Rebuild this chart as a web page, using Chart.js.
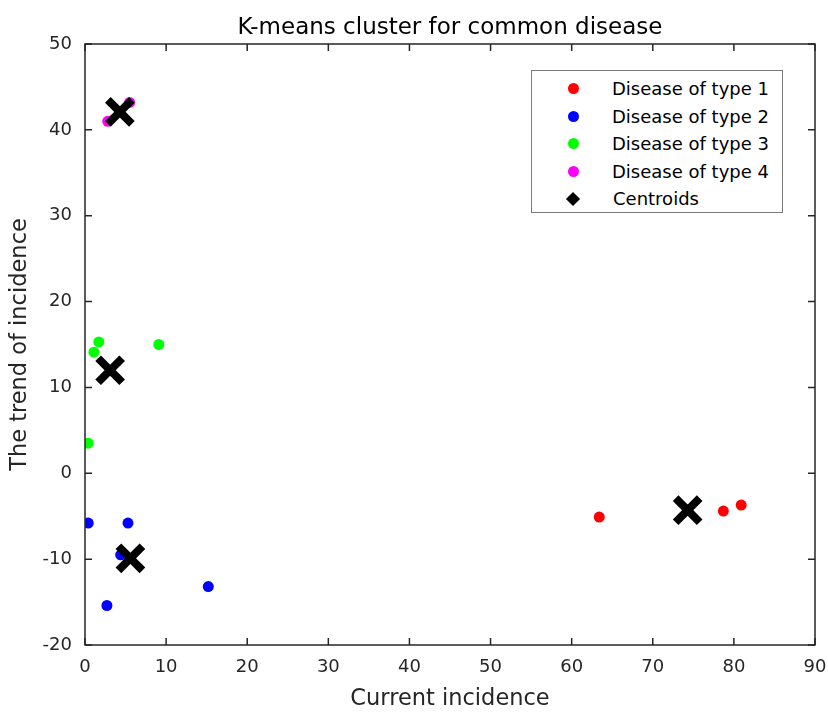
<!DOCTYPE html>
<html>
<head>
<meta charset="utf-8">
<script src="https://cdn.jsdelivr.net/npm/chart.js@4"></script>
<style>
  html, body { margin: 0; padding: 0; background: #fff; }
  #wrap { position: relative; width: 828px; height: 713px; }
  #legend {
    position: absolute; left: 531px; top: 70px; width: 252px; height: 143px;
    border: 1px solid #7a7a7a; background: #fff; box-sizing: border-box;
    font-family: "DejaVu Sans", "Liberation Sans", Arial, sans-serif; font-size: 18px; color: #000;
    padding-top: 4px;
  }
  .item { height: 27.5px; display: flex; align-items: center; white-space: nowrap; }
  .mark { width: 11px; height: 11px; border-radius: 50%; margin-left: 36px; margin-right: 33px; flex: none; }
  .dia { width: 10px; height: 10px; background: #000; transform: rotate(45deg); margin-left: 36px; margin-right: 35px; flex: none; }
</style>
</head>
<body>
<div id="wrap">
  <canvas id="chart" width="828" height="713"></canvas>
  <div id="legend"></div>
</div>
<script>
// ===== Data =====
const seriesNames = ['Disease of type 1', 'Disease of type 2', 'Disease of type 3', 'Disease of type 4'];
const seriesColors = ['#ff0000', '#0000ff', '#00ff00', '#ff00ff'];

const type1X = [63.4, 78.7, 80.9];
const type1Y = [-5.1, -4.4, -3.7];
const type2X = [0.4, 5.3, 4.4, 15.2, 2.7];
const type2Y = [-5.8, -5.8, -9.5, -13.2, -15.4];
const type3X = [1.7, 1.1, 9.1, 0.4];
const type3Y = [15.3, 14.1, 15.0, 3.5];
const type4X = [2.8, 5.5];
const type4Y = [41.0, 43.2];

const centroidX = [74.3, 5.6, 3.1, 4.3];
const centroidY = [-4.3, -9.9, 12.0, 42.1];

const xTicks = [0, 10, 20, 30, 40, 50, 60, 70, 80, 90];
const yTicks = [-20, -10, 0, 10, 20, 30, 40, 50];

const pts = (xs, ys) => xs.map((x, i) => ({ x, y: ys[i] }));
const groups = [[type1X, type1Y], [type2X, type2Y], [type3X, type3Y], [type4X, type4Y]];

const datasets = groups.map((g, i) => ({
    label: seriesNames[i],
    data: pts(g[0], g[1]),
    backgroundColor: seriesColors[i],
    borderColor: seriesColors[i],
    pointRadius: 5.5,
    borderWidth: 0,
    order: 2
}));

datasets.push({
    label: 'Centroids',
    data: pts(centroidX, centroidY),
    pointStyle: 'crossRot',
    pointRadius: 17,
    borderColor: '#000',
    borderWidth: 8,
    order: 1
});

// ===== Legend (HTML) =====
const legendEl = document.getElementById('legend');
seriesNames.forEach((name, i) => {
    legendEl.insertAdjacentHTML('beforeend',
        `<div class="item"><span class="mark" style="background:${seriesColors[i]}"></span>${name}</div>`);
});
legendEl.insertAdjacentHTML('beforeend', `<div class="item"><span class="dia"></span>Centroids</div>`);

// ===== Box with inward ticks (MATLAB style) =====
const axisColor = '#262626';
const boxPlugin = {
    id: 'matlabBox',
    afterDatasetsDraw(chart) {
        const { ctx, chartArea: a, scales } = chart;
        const tl = 7;
        ctx.save();
        ctx.strokeStyle = axisColor;
        ctx.lineWidth = 1.5;
        ctx.strokeRect(a.left, a.top, a.right - a.left, a.bottom - a.top);
        ctx.beginPath();
        xTicks.forEach(v => {
            const x = scales.x.getPixelForValue(v);
            ctx.moveTo(x, a.bottom); ctx.lineTo(x, a.bottom - tl);
            ctx.moveTo(x, a.top); ctx.lineTo(x, a.top + tl);
        });
        yTicks.forEach(v => {
            const y = scales.y.getPixelForValue(v);
            ctx.moveTo(a.left, y); ctx.lineTo(a.left + tl, y);
            ctx.moveTo(a.right, y); ctx.lineTo(a.right - tl, y);
        });
        ctx.stroke();
        ctx.restore();
    }
};

const font = { family: '"DejaVu Sans", "Liberation Sans", Arial, sans-serif' };
// labels may overhang the plot box, so don't let them shrink it
const noPad = () => ({ left: 0, top: 0, right: 0, bottom: 0 });

new Chart(document.getElementById('chart'), {
    type: 'scatter',
    data: { datasets },
    plugins: [boxPlugin],
    options: {
        responsive: false,
        animation: false,
        layout: { autoPadding: false, padding: { left: 0, right: 13, top: 0, bottom: 0 } },
        plugins: {
            legend: { display: false },
            tooltip: { enabled: false },
            title: {
                display: true,
                fullSize: false,
                text: 'K-means cluster for common disease',
                color: '#000',
                font: { ...font, size: 23, weight: 'normal' },
                padding: { top: 14, bottom: 2.4 }
            }
        },
        scales: {
            x: {
                type: 'linear',
                min: 0, max: 90,
                afterBuildTicks: s => { s.ticks = xTicks.map(v => ({ value: v })); },
                afterFit: s => { s.height = 68; s.paddingLeft = 0; s.paddingRight = 0; s.getPadding = noPad; },
                grid: { display: false, drawTicks: false },
                border: { display: false },
                ticks: { color: axisColor, font: { ...font, size: 18 }, padding: 12 },
                title: {
                    display: true, text: 'Current incidence', color: axisColor,
                    font: { ...font, size: 22.5 }, padding: { top: 4, bottom: 0 }
                }
            },
            y: {
                type: 'linear',
                min: -20, max: 50,
                afterBuildTicks: s => { s.ticks = yTicks.map(v => ({ value: v })); },
                afterFit: s => { s.width = 85; s.paddingTop = 0; s.paddingBottom = 0; s.getPadding = noPad; },
                grid: { display: false, drawTicks: false },
                border: { display: false },
                ticks: { color: axisColor, font: { ...font, size: 18 }, padding: 13 },
                title: {
                    display: true, text: 'The trend of incidence', color: axisColor,
                    font: { ...font, size: 22.5 }, padding: { top: 7, bottom: 4 }
                }
            }
        }
    }
});
</script>
</body>
</html>
